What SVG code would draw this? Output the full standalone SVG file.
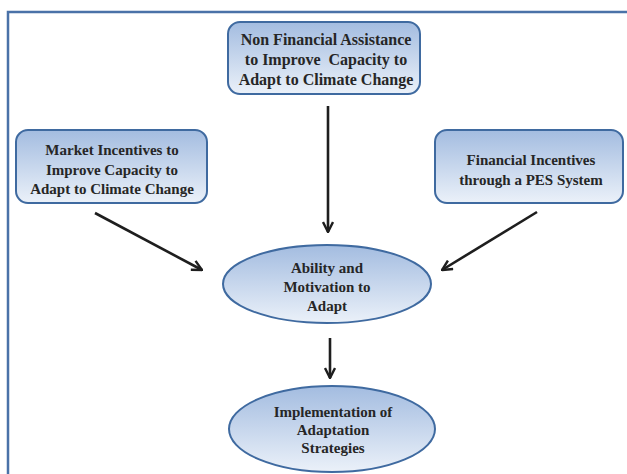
<svg xmlns="http://www.w3.org/2000/svg" width="627" height="474" viewBox="0 0 627 474">
<defs>
<linearGradient id="g" x1="0" y1="0" x2="0" y2="1">
<stop offset="0" stop-color="#a3bce0"/>
<stop offset="1" stop-color="#ebf1f9"/>
</linearGradient>
<marker id="ah" viewBox="0 0 12 12" refX="11" refY="6" markerWidth="12" markerHeight="12" markerUnits="userSpaceOnUse" orient="auto">
<path d="M1,1 L11,6 L1,11" fill="none" stroke="#1e1e1e" stroke-width="2.4" stroke-linejoin="miter"/>
</marker>
<style>
.n{fill:url(#g);stroke:#3f6aa0;stroke-width:2}
.t{font-family:"Liberation Serif","Times New Roman",serif;font-weight:bold;font-size:15px;fill:#262626;text-anchor:middle}
.big{font-size:16px}
.c{stroke:#1e1e1e;stroke-width:2.6;fill:none;marker-end:url(#ah)}
</style>
</defs>
<rect width="627" height="474" fill="#ffffff"/>
<rect x="8" y="12" width="640" height="480" fill="none" stroke="#4a72a8" stroke-width="2.5"/>
<g id="connectors">
<line class="c" x1="328" y1="106" x2="328" y2="232"/>
<line class="c" x1="95" y1="213" x2="202" y2="270"/>
<line class="c" x1="537" y1="212" x2="442" y2="270"/>
<line class="c" x1="330" y1="338" x2="330" y2="378"/>
</g>
<g id="node-nonfinancial">
<rect class="n" x="228" y="22" width="192" height="72" rx="12"/>
<text class="t big" x="326" y="45">Non Financial Assistance</text>
<text class="t big" x="326" y="65" xml:space="preserve">to Improve  Capacity to</text>
<text class="t big" x="326" y="85">Adapt to Climate Change</text>
</g>
<g id="node-market">
<rect class="n" x="16" y="130" width="191" height="73" rx="12"/>
<text class="t" x="112" y="155">Market Incentives to</text>
<text class="t" x="112" y="175">Improve Capacity to</text>
<text class="t" x="112" y="194">Adapt to Climate Change</text>
</g>
<g id="node-financial">
<rect class="n" x="435" y="130" width="188" height="73" rx="12"/>
<text class="t" x="531" y="165">Financial Incentives</text>
<text class="t" x="531" y="185">through a PES System</text>
</g>
<g id="node-ability">
<ellipse class="n" cx="327" cy="284" rx="104" ry="39"/>
<text class="t" x="327" y="273">Ability and</text>
<text class="t" x="327" y="292">Motivation to</text>
<text class="t" x="327" y="311">Adapt</text>
</g>
<g id="node-implementation">
<ellipse class="n" cx="332" cy="429" rx="103" ry="43"/>
<text class="t" x="333" y="417">Implementation of</text>
<text class="t" x="333" y="435">Adaptation</text>
<text class="t" x="333" y="453">Strategies</text>
</g>
</svg>
